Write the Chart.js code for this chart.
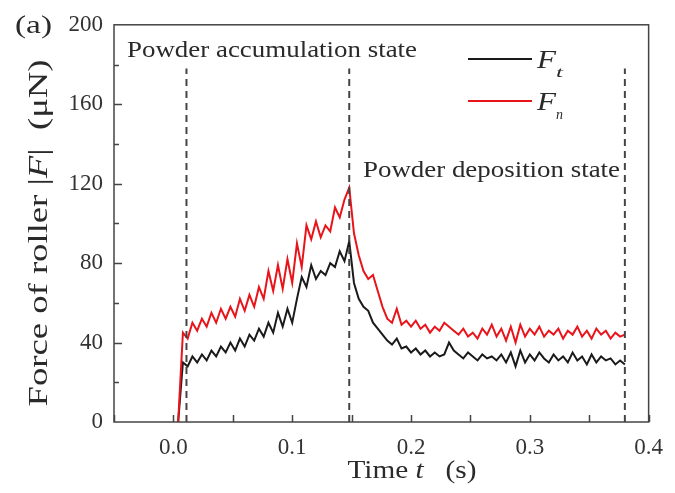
<!DOCTYPE html>
<html>
<head>
<meta charset="utf-8">
<script src="https://cdn.jsdelivr.net/npm/chart.js@4.4.1/dist/chart.umd.min.js"></script>
<style>
  html, body { margin: 0; padding: 0; background: #fff; }
</style>
</head>
<body>
<canvas id="rollerForceChart" width="675" height="493"></canvas>
<script>
const times = [
  0.004, 0.008, 0.012, 0.016, 0.020, 0.024, 0.028, 0.032, 0.036, 0.040,
  0.044, 0.048, 0.052, 0.056, 0.060, 0.064, 0.068, 0.072, 0.076, 0.080,
  0.084, 0.088, 0.092, 0.096, 0.100, 0.104, 0.108, 0.112, 0.116, 0.120,
  0.124, 0.128, 0.132, 0.136, 0.140, 0.144, 0.148, 0.152, 0.156, 0.160,
  0.164, 0.168, 0.172, 0.176, 0.180, 0.184, 0.188, 0.192, 0.196, 0.200,
  0.204, 0.208, 0.212, 0.216, 0.220, 0.224, 0.228, 0.232, 0.236, 0.240,
  0.244, 0.248, 0.252, 0.256, 0.260, 0.264, 0.268, 0.272, 0.276, 0.280,
  0.284, 0.288, 0.292, 0.296, 0.300, 0.304, 0.308, 0.312, 0.316, 0.320,
  0.324, 0.328, 0.332, 0.336, 0.340, 0.344, 0.348, 0.352, 0.356, 0.360,
  0.364, 0.368, 0.372, 0.376, 0.380
];
// F_t (black)
const forceT = [
  0, 30, 28, 33, 30, 34, 31, 36, 33, 38,
  35, 40, 36, 42, 38, 44, 41, 47, 43, 50,
  45, 55, 48, 57, 50, 62, 73, 68, 79, 72,
  76, 74, 80, 78, 86, 81, 91, 70, 62, 58,
  56, 50, 47, 44, 41, 39, 42, 37, 38, 35,
  37, 34, 36, 33, 35, 33, 34, 40, 36, 34,
  32, 35, 33, 31, 34, 32, 33, 31, 34, 30,
  35, 28, 36, 30, 34, 31, 35, 32, 30, 34,
  31, 33, 30, 35, 31, 33, 29, 34, 30, 33,
  31, 32, 29, 31, 29
];
// F_n (red)
const forceN = [
  0, 45, 42, 50, 46, 52, 48, 55, 50, 57,
  52, 58, 53, 62, 56, 64, 58, 68, 62, 76,
  66, 79, 67, 82, 70, 90, 78, 99, 92, 101,
  93, 99, 96, 108, 103, 112, 118, 95, 84, 76,
  72, 74, 66, 58, 52, 50, 57, 49, 51, 48,
  51, 47, 49, 45, 48, 46, 50, 48, 46, 44,
  47, 43, 45, 42, 47, 44, 49, 43, 47, 41,
  48, 40, 49, 43, 47, 44, 48, 43, 46, 44,
  47, 42, 46, 44, 48, 43, 46, 42, 47, 44,
  46, 42, 45, 43, 44
];
const seriesNames = ["F_t", "F_n"];
const stateTimes = [0.011, 0.148, 0.38];
const stateTop = 178;
const stateLabels = ["Powder accumulation state", "Powder deposition state"];

const SERIF = '"Liberation Serif", "Times New Roman", serif';
const INK = "#2a2a2a";

function pts(vals) {
  return times.map((t, i) => ({ x: t, y: vals[i] }));
}

// draw text made of [string, italic] parts, squeezed/stretched to a width
function fitText(ctx, parts, x, y, width, size, align) {
  ctx.save();
  const fonts = parts.map(p => (p[1] ? "italic " : "") + size + "px " + SERIF);
  const ws = parts.map((p, i) => { ctx.font = fonts[i]; return ctx.measureText(p[0]).width; });
  const total = ws.reduce((a, b) => a + b, 0);
  ctx.translate(x, y);
  ctx.scale(width / total, 1);
  let cx = align === "center" ? -total / 2 : 0;
  ctx.fillStyle = INK;
  ctx.textBaseline = "alphabetic";
  ctx.textAlign = "left";
  parts.forEach((p, i) => {
    ctx.font = fonts[i];
    ctx.fillText(p[0], cx, 0);
    cx += ws[i];
  });
  ctx.restore();
}

const decorations = {
  id: "decorations",
  afterDraw(chart) {
    const { ctx, chartArea: a, scales: { x, y } } = chart;
    ctx.save();
    // frame
    ctx.strokeStyle = "#444";
    ctx.lineWidth = 1.5;
    ctx.strokeRect(a.left, a.top, a.right - a.left, a.bottom - a.top);
    // inward ticks
    ctx.beginPath();
    for (let v = -0.05; v <= 0.4001; v += 0.05) {
      const px = Math.round(x.getPixelForValue(v)) + 0.5;
      ctx.moveTo(px, a.bottom);
      ctx.lineTo(px, a.bottom - 7);
    }
    for (let v = 20; v < 200; v += 20) {
      const py = Math.round(y.getPixelForValue(v)) + 0.5;
      const len = v % 40 === 0 ? 8 : 5;
      ctx.moveTo(a.left, py);
      ctx.lineTo(a.left + len, py);
    }
    ctx.stroke();
    ctx.restore();

    // text
    fitText(ctx, [["(a)", false]], 15, 33, 37, 26);
    fitText(ctx, [[stateLabels[0], false]], 127, 57, 290, 24);
    fitText(ctx, [[stateLabels[1], false]], 363, 177, 257, 24);

    ctx.save();
    ctx.translate(47, 233);
    ctx.rotate(-Math.PI / 2);
    fitText(ctx, [["Force of roller |", false], ["F", true], ["|  (\u03bcN)", false]], 0, 0, 347, 28, "center");
    ctx.restore();
    fitText(ctx, [["Time ", false], ["t", true], ["   (s)", false]], 412, 478, 129, 26, "center");

    // legend
    const leg = [
      { color: "#1a1a1a", y: 59, sub: "t" },
      { color: "#e8141a", y: 101, sub: "n" }
    ];
    leg.forEach((l, i) => {
      ctx.save();
      ctx.strokeStyle = l.color;
      ctx.lineWidth = 2;
      ctx.beginPath();
      ctx.moveTo(468, l.y);
      ctx.lineTo(532, l.y);
      ctx.stroke();
      ctx.restore();
      fitText(ctx, [["F", true]], 537, l.y + 9, 19, 26);
      fitText(ctx, [[l.sub, true]], 556, l.y + 18, 7, 14);
    });
  }
};

new Chart(document.getElementById("rollerForceChart"), {
  type: "line",
  data: {
    datasets: [
      ...stateTimes.map(t => ({
        label: "state",
        data: [{ x: t, y: 0 }, { x: t, y: stateTop }],
        borderColor: "#444",
        borderWidth: 2,
        borderDash: [7, 5],
        pointRadius: 0
      })),
      {
        label: seriesNames[1],
        data: pts(forceN),
        borderColor: "#e8141a",
        borderWidth: 2,
        pointRadius: 0,
        tension: 0
      },
      {
        label: seriesNames[0],
        data: pts(forceT),
        borderColor: "#1a1a1a",
        borderWidth: 2,
        pointRadius: 0,
        tension: 0
      }
    ]
  },
  options: {
    responsive: false,
    animation: false,
    layout: { padding: { left: 0, right: 18, top: 23, bottom: 0 } },
    plugins: { legend: { display: false }, tooltip: { enabled: false } },
    scales: {
      x: {
        type: "linear",
        min: -0.05,
        max: 0.4,
        afterFit: s => { s.height = 71; },
        grid: { display: false, drawTicks: false },
        border: { display: false },
        ticks: {
          stepSize: 0.05,
          autoSkip: false,
          maxRotation: 0,
          padding: 12,
          color: "#333",
          font: { family: SERIF, size: 23 },
          callback: v => {
            const k = Math.round(v * 100);
            return k >= 0 && k % 10 === 0 ? (k / 100).toFixed(1) : "";
          }
        }
      },
      y: {
        min: 0,
        max: 200,
        afterFit: s => { s.width = 114; },
        grid: { display: false, drawTicks: false },
        border: { display: false },
        ticks: {
          stepSize: 20,
          padding: 11,
          color: "#333",
          font: { family: SERIF, size: 23 },
          callback: v => (v % 40 === 0 ? String(v) : "")
        }
      }
    }
  },
  plugins: [decorations]
});
</script>
</body>
</html>
